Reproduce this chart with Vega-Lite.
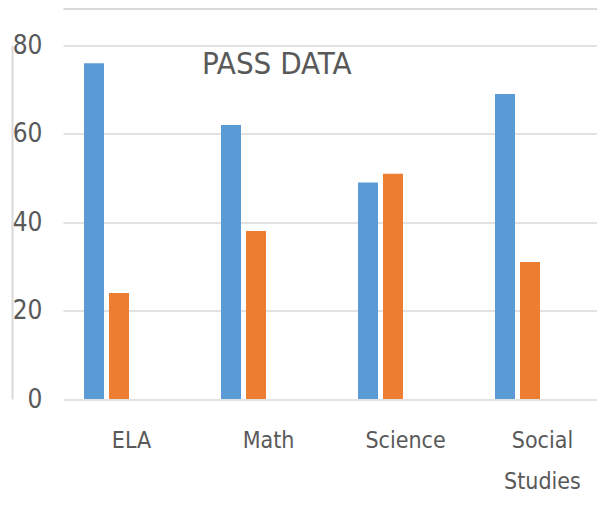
{
  "$schema": "https://vega.github.io/schema/vega-lite/v6.json",
  "width": 548,
  "height": 353.5,
  "autosize": {"type": "none"},
  "padding": {"left": 63, "top": 45.5, "right": 0, "bottom": 117},
  "background": "white",
  "title": {
    "text": "PASS DATA",
    "fontSize": 31,
    "fontWeight": "normal",
    "font": "DejaVu Sans Condensed, sans-serif",
    "color": "#595959",
    "anchor": "start",
    "frame": "group",
    "dx": 139,
    "dy": 67,
    "baseline": "alphabetic",
    "offset": -29.5
  },
  "data": {
    "values": [
      {"subject": "ELA", "result": "Pass", "value": 76},
      {"subject": "ELA", "result": "Fail", "value": 24},
      {"subject": "Math", "result": "Pass", "value": 62},
      {"subject": "Math", "result": "Fail", "value": 38},
      {"subject": "Science", "result": "Pass", "value": 49},
      {"subject": "Science", "result": "Fail", "value": 51},
      {"subject": "Social Studies", "result": "Pass", "value": 69},
      {"subject": "Social Studies", "result": "Fail", "value": 31}
    ]
  },
  "encoding": {
    "x": {
      "field": "subject",
      "type": "nominal",
      "sort": ["ELA", "Math", "Science", "Social Studies"],
      "scale": {"paddingInner": 0.27, "paddingOuter": 0.135}
    },
    "xOffset": {
      "field": "result",
      "type": "nominal",
      "scale": {"domain": ["Pass", "Fail", "s3", "s4"], "paddingInner": 0.2, "paddingOuter": 0.1}
    },
    "y": {
      "field": "value",
      "type": "quantitative",
      "scale": {"domain": [0, 80]}
    },
    "color": {
      "field": "result",
      "type": "nominal",
      "scale": {"domain": ["Pass", "Fail"], "range": ["#5B9BD5", "#ED7D31"]},
      "legend": null
    }
  },
  "layer": [
    {
      "mark": {"type": "bar", "opacity": 0},
      "encoding": {
        "x": {
          "field": "subject",
          "type": "nominal",
          "sort": ["ELA", "Math", "Science", "Social Studies"],
          "axis": {
            "orient": "top",
            "offset": 37,
            "title": null,
            "labels": false,
            "ticks": false,
            "grid": false,
            "domain": true,
            "domainColor": "#d9d9d9",
            "domainWidth": 2
          }
        },
        "y": {
          "field": "value",
          "type": "quantitative",
          "axis": {
            "orient": "left",
            "offset": 51,
            "title": null,
            "labels": false,
            "ticks": false,
            "grid": false,
            "domain": true,
            "domainColor": "#d9d9d9",
            "domainWidth": 2
          }
        }
      }
    },
    {
      "mark": {"type": "bar"},
      "encoding": {
        "x": {
          "field": "subject",
          "type": "nominal",
          "sort": ["ELA", "Math", "Science", "Social Studies"],
          "axis": {
            "orient": "bottom",
            "title": null,
            "domain": false,
            "ticks": false,
            "labelAngle": 0,
            "labelFontSize": 23,
            "labelFont": "DejaVu Sans Condensed, sans-serif",
            "labelColor": "#595959",
            "labelPadding": 30,
            "labelDx": -6,
            "labelLineHeight": 41,
            "labelExpr": "split(datum.label, ' ')"
          }
        },
        "y": {
          "field": "value",
          "type": "quantitative",
          "axis": {
            "orient": "left",
            "title": null,
            "domain": false,
            "ticks": false,
            "grid": true,
            "values": [0, 20, 40, 60, 80],
            "labelFontSize": 26,
            "labelFont": "DejaVu Sans Condensed, sans-serif",
            "labelColor": "#595959",
            "labelPadding": 21,
            "gridColor": "#d9d9d9",
            "gridWidth": 1.5
          }
        }
      }
    }
  ],
  "resolve": {"axis": {"x": "independent", "y": "independent"}},
  "config": {"view": {"stroke": null}}
}
